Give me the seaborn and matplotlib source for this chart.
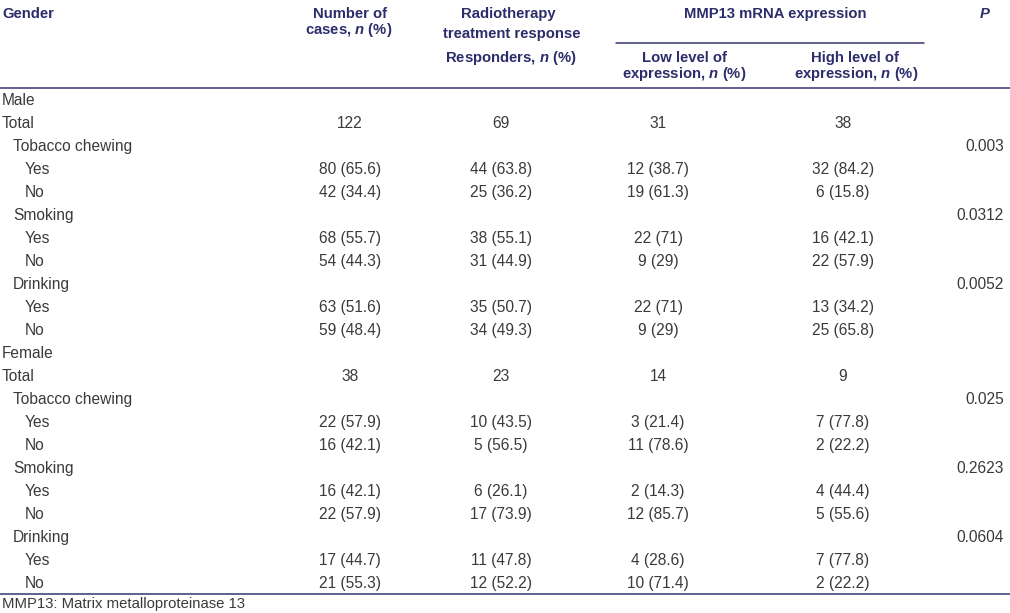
import numpy as np
import pandas as pd
import matplotlib
matplotlib.use("Agg")
import matplotlib.pyplot as plt
import seaborn as sns

# table content
row_labels = ["Male", "Total", "Tobacco chewing", "Yes", "No", "Smoking", "Yes", "No",
              "Drinking", "Yes", "No",
              "Female", "Total", "Tobacco chewing", "Yes", "No", "Smoking", "Yes", "No",
              "Drinking", "Yes", "No"]
row_levels = [0, 0, 1, 2, 2, 1, 2, 2, 1, 2, 2,
              0, 0, 1, 2, 2, 1, 2, 2, 1, 2, 2]
n_cases = ["", "122", "", "80 (65.6)", "42 (34.4)", "", "68 (55.7)", "54 (44.3)",
           "", "63 (51.6)", "59 (48.4)",
           "", "38", "", "22 (57.9)", "16 (42.1)", "", "16 (42.1)", "22 (57.9)",
           "", "17 (44.7)", "21 (55.3)"]
responders = ["", "69", "", "44 (63.8)", "25 (36.2)", "", "38 (55.1)", "31 (44.9)",
              "", "35 (50.7)", "34 (49.3)",
              "", "23", "", "10 (43.5)", "5 (56.5)", "", "6 (26.1)", "17 (73.9)",
              "", "11 (47.8)", "12 (52.2)"]
low_expr = ["", "31", "", "12 (38.7)", "19 (61.3)", "", "22 (71)", "9 (29)",
            "", "22 (71)", "9 (29)",
            "", "14", "", "3 (21.4)", "11 (78.6)", "", "2 (14.3)", "12 (85.7)",
            "", "4 (28.6)", "10 (71.4)"]
high_expr = ["", "38", "", "32 (84.2)", "6 (15.8)", "", "16 (42.1)", "22 (57.9)",
             "", "13 (34.2)", "25 (65.8)",
             "", "9", "", "7 (77.8)", "2 (22.2)", "", "4 (44.4)", "5 (55.6)",
             "", "7 (77.8)", "2 (22.2)"]
p_values = ["", "", "0.003", "", "", "0.0312", "", "", "0.0052", "", "",
            "", "", "0.025", "", "", "0.2623", "", "", "0.0604", "", ""]
footnote = "MMP13: Matrix metalloproteinase 13"

df = pd.DataFrame({"label": row_labels, "level": row_levels, "cases": n_cases,
                   "resp": responders, "low": low_expr, "high": high_expr, "p": p_values})

sns.set_theme(style="white")
plt.rcParams["font.family"] = ["Liberation Sans", "DejaVu Sans"]
plt.rcParams["mathtext.fontset"] = "custom"
plt.rcParams["mathtext.rm"] = "Liberation Sans:bold"
plt.rcParams["mathtext.it"] = "Liberation Sans:bold:italic"
plt.rcParams["mathtext.bf"] = "Liberation Sans:bold"

head_col = "#2c2d6b"
line_col = "#34356f"
body_col = "#3a3a3a"
hfs = 10.7
bfs = 11.2

fig = plt.figure(figsize=(10.1, 6.13), dpi=100)
ax = fig.add_axes([0, 0, 1, 1])
ax.set_xlim(0, 1010)
ax.set_ylim(613, 0)
ax.axis("off")

# header (baseline aligned)
hk = dict(color=head_col, fontsize=hfs, fontweight="bold", va="baseline")
nn = r"$\mathit{n}$"
ax.text(2, 18, "Gender", ha="left", **hk)
ax.text(350, 18, "Number of", ha="center", **hk)
ax.text(349, 34, "cases, " + nn + " (%)", ha="center", **hk)
ax.text(508, 18, "Radiotherapy", ha="center", **hk)
ax.text(512, 38, "treatment response", ha="center", **hk)
ax.text(511, 62, "Responders, " + nn + " (%)", ha="center", **hk)
ax.text(775, 18, "MMP13 mRNA expression", ha="center", **hk)
ax.text(684, 62, "Low level of", ha="center", **hk)
ax.text(684, 78, "expression, " + nn + " (%)", ha="center", **hk)
ax.text(855, 62, "High level of", ha="center", **hk)
ax.text(856, 78, "expression, " + nn + " (%)", ha="center", **hk)
ax.text(985, 18, r"$\mathit{P}$", ha="center", **hk)

ax.plot([616, 924], [43, 43], color=line_col, lw=1.1)
ax.plot([0, 1010], [87.5, 87.5], color=line_col, lw=1.1)

# body rows
base0, step = 105, 23
indent = [2, 13, 25]
bk = dict(color=body_col, fontsize=bfs, va="baseline")
for i, r in df.iterrows():
    y = base0 + i * step
    ax.text(indent[r["level"]], y, r["label"], ha="left", **bk)
    ax.text(350, y, r["cases"], ha="center", **bk)
    ax.text(501, y, r["resp"], ha="center", **bk)
    ax.text(658, y, r["low"], ha="center", **bk)
    ax.text(843, y, r["high"], ha="center", **bk)
    ax.text(1004, y, r["p"], ha="right", **bk)

ax.plot([0, 1010], [593.5, 593.5], color=line_col, lw=1.1)
ax.text(2, 608, footnote, ha="left", color=body_col, fontsize=10.7, va="baseline")

fig.savefig("out.png", dpi=100)
